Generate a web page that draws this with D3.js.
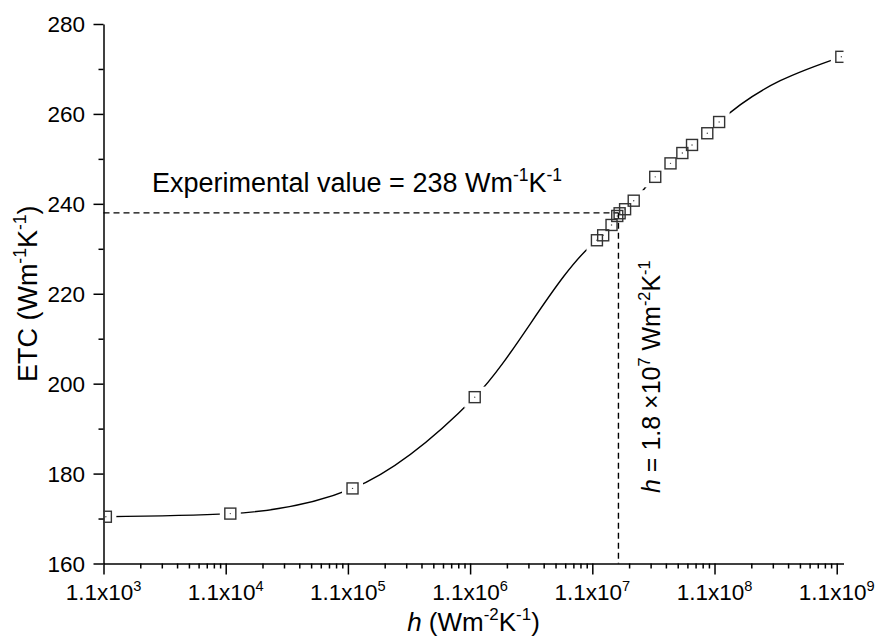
<!DOCTYPE html>
<html>
<head>
<meta charset="utf-8">
<script src="https://cdn.jsdelivr.net/npm/d3@7"></script>
<style>
  body { margin: 0; background: #fff; }
  svg { display: block; }
  text { font-family: "Liberation Sans", Arial, sans-serif; fill: #000; }
</style>
</head>
<body>
<svg id="chart" width="878" height="639"></svg>
<script>
// Heat transfer coefficient h (W m^-2 K^-1) and the resulting effective thermal conductivity
const hValues = [1.15e3, 1.2e4, 1.2e5, 1.2e6, 1.2e7, 1.35e7, 1.58e7, 1.76e7, 1.84e7, 2.04e7,
                 2.4e7, 3.6e7, 4.8e7, 6.0e7, 7.2e7, 9.6e7, 1.2e8, 1.2e9];
const etcValues = [170.4, 171.1, 176.7, 197.0, 231.9, 233.0, 235.3, 237.3, 237.9, 238.8,
                   240.7, 246.0, 249.0, 251.3, 253.1, 255.7, 258.2, 272.7];

// Axis ticks
const xTickExponents = [3, 4, 5, 6, 7, 8, 9];
const xTickValues = xTickExponents.map(e => 1.1 * Math.pow(10, e));
const yTickValues = [160, 180, 200, 220, 240, 260, 280];
const yMinorTickValues = [170, 190, 210, 230, 250, 270];

// Reference values marked with dashed guides
const experimentalETC = 238;
const fittedH = 1.8e7;

const svg = d3.select("#chart");
const plot = { left: 103.5, right: 843.5, top: 24, bottom: 563.5 };

const x = d3.scaleLog().domain([1.1e3, 1.25e9]).range([plot.left, plot.right]);
const y = d3.scaleLinear().domain([160, 280]).range([plot.bottom, plot.top]);

const data = hValues.map((h, i) => ({ h, v: etcValues[i] }));

// minor log ticks: k * 1.1 * 10^n, k = 2..9
const xMinorTickValues = [];
xTickValues.forEach(base => {
  for (let k = 2; k <= 9; k++) {
    const v = base * k;
    if (v <= x.domain()[1]) xMinorTickValues.push(v);
  }
});

const defs = svg.append("defs");
defs.append("clipPath").attr("id", "plotClip")
  .append("rect")
  .attr("x", plot.left).attr("y", plot.top)
  .attr("width", plot.right - plot.left).attr("height", plot.bottom - plot.top);

// the fitted curve is interrupted around every symbol
const mask = defs.append("mask").attr("id", "symbolGap")
  .attr("maskUnits", "userSpaceOnUse")
  .attr("x", 0).attr("y", 0).attr("width", 878).attr("height", 639);
mask.append("rect").attr("x", 0).attr("y", 0).attr("width", 878).attr("height", 639).attr("fill", "#fff");
mask.selectAll("rect.hole").data(data).join("rect")
  .attr("class", "hole")
  .attr("x", d => x(d.h) - 10.5).attr("y", d => y(d.v) - 10.5)
  .attr("width", 21).attr("height", 21).attr("fill", "#000");

// ---- axes ----
function styleAxis(g) {
  g.selectAll("path, line").attr("stroke", "#000").attr("stroke-width", 1.5);
  g.selectAll("text").remove();
}

svg.append("g")
  .attr("transform", `translate(0,${plot.bottom})`)
  .call(d3.axisBottom(x).tickValues(xMinorTickValues).tickSize(5).tickSizeOuter(0).tickFormat(""))
  .call(styleAxis)
  .call(g => g.select(".domain").remove());

svg.append("g")
  .attr("transform", `translate(0,${plot.bottom})`)
  .call(d3.axisBottom(x).tickValues(xTickValues).tickSize(11).tickSizeOuter(0).tickFormat(""))
  .call(styleAxis);

svg.append("g")
  .attr("transform", `translate(${plot.left},0)`)
  .call(d3.axisLeft(y).tickValues(yMinorTickValues).tickSize(5).tickSizeOuter(0).tickFormat(""))
  .call(styleAxis)
  .call(g => g.select(".domain").remove());

svg.append("g")
  .attr("transform", `translate(${plot.left},0)`)
  .call(d3.axisLeft(y).tickValues(yTickValues).tickSize(10).tickSizeOuter(0).tickFormat(""))
  .call(styleAxis);

// text with superscript runs: parts = [[text, "sup"|"it"|null], ...]
function richText(sel, parts, size) {
  const supSize = size * 0.65;
  const shift = size * 0.42;
  let raised = false;
  parts.forEach(([t, kind]) => {
    const ts = sel.append("tspan").text(t);
    if (kind === "sup") {
      ts.attr("font-size", supSize);
      if (!raised) { ts.attr("dy", -shift); raised = true; }
    } else {
      if (raised) { ts.attr("dy", shift); raised = false; }
      if (kind === "it") ts.attr("font-style", "italic");
    }
  });
}

// y tick labels
svg.append("g").selectAll("text").data(yTickValues).join("text")
  .attr("x", plot.left - 18.5)
  .attr("y", d => y(d))
  .attr("dy", "0.36em")
  .attr("text-anchor", "end")
  .attr("font-size", 22.5)
  .text(d => d);

// x tick labels: 1.1x10^n
const xLabels = svg.append("g");
xTickExponents.forEach((e, i) => {
  const t = xLabels.append("text")
    .attr("x", x(xTickValues[i]))
    .attr("y", 600)
    .attr("text-anchor", "middle")
    .attr("font-size", 22.5);
  richText(t, [["1.1x10", null], [String(e), "sup"]], 22.5);
});

// axis titles
const xTitle = svg.append("text")
  .attr("x", (plot.left + plot.right) / 2)
  .attr("y", 631)
  .attr("text-anchor", "middle")
  .attr("font-size", 26);
richText(xTitle, [["h", "it"], [" (Wm", null], ["-2", "sup"], ["K", null], ["-1", "sup"], [")", null]], 26);

const yTitle = svg.append("text")
  .attr("transform", `translate(37,${(plot.top + plot.bottom) / 2}) rotate(-90)`)
  .attr("text-anchor", "middle")
  .attr("font-size", 27);
richText(yTitle, [["ETC (Wm", null], ["-1", "sup"], ["K", null], ["-1", "sup"], [")", null]], 27);

// ---- dashed guides ----
const guides = svg.append("g")
  .attr("stroke", "#000").attr("stroke-width", 1.4)
  .attr("stroke-dasharray", "6,4").attr("fill", "none");
guides.append("line")
  .attr("x1", plot.left).attr("x2", x(fittedH))
  .attr("y1", y(experimentalETC)).attr("y2", y(experimentalETC));
guides.append("line")
  .attr("x1", x(fittedH)).attr("x2", x(fittedH))
  .attr("y1", y(experimentalETC)).attr("y2", plot.bottom);

// annotations
const expLabel = svg.append("text")
  .attr("x", 152).attr("y", 192)
  .attr("font-size", 27);
richText(expLabel, [[`Experimental value = ${experimentalETC} Wm`, null], ["-1", "sup"], ["K", null], ["-1", "sup"]], 27);

const hLabel = svg.append("text")
  .attr("transform", `translate(660,493) rotate(-90)`)
  .attr("font-size", 25);
richText(hLabel, [["h", "it"], [" = 1.8 \u00d710", null], ["7", "sup"], [" Wm", null], ["-2", "sup"], ["K", null], ["-1", "sup"]], 25);

// ---- curve and symbols ----
const line = d3.line()
  .x(d => x(d.h))
  .y(d => y(d.v))
  .curve(d3.curveMonotoneX);

svg.append("g").attr("clip-path", "url(#plotClip)")
  .append("path")
  .datum(data)
  .attr("d", line)
  .attr("fill", "none")
  .attr("stroke", "#000")
  .attr("stroke-width", 1.4)
  .attr("mask", "url(#symbolGap)");

const symbols = svg.append("g").attr("clip-path", "url(#plotClip)");
symbols.selectAll("rect").data(data).join("rect")
  .attr("x", d => x(d.h) - 5.5).attr("y", d => y(d.v) - 5.5)
  .attr("width", 11).attr("height", 11)
  .attr("fill", "none")
  .attr("stroke", "#333")
  .attr("stroke-width", 1.4);
symbols.selectAll("circle").data(data).join("circle")
  .attr("cx", d => x(d.h)).attr("cy", d => y(d.v))
  .attr("r", 0.7)
  .attr("fill", "#444");
</script>
</body>
</html>
